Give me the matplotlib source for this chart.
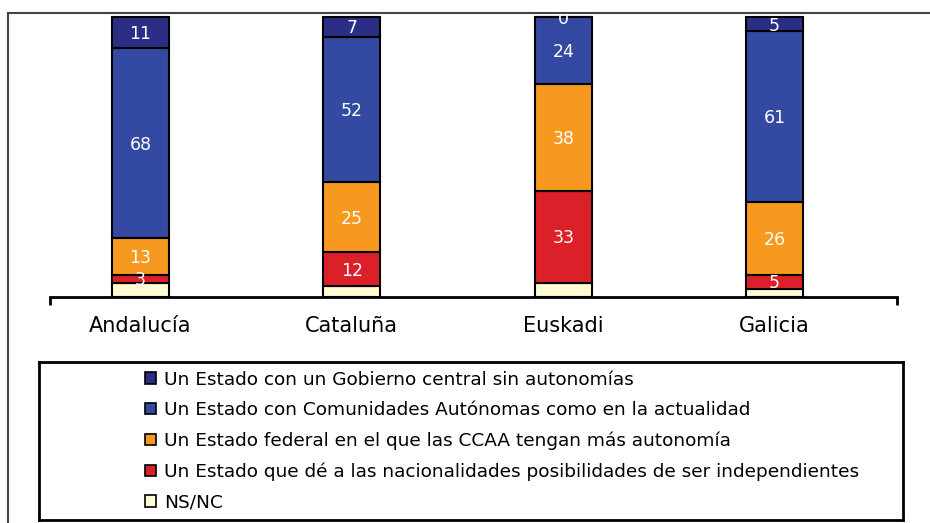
import matplotlib
matplotlib.use("Agg")
import matplotlib.pyplot as plt
from matplotlib.lines import Line2D
from matplotlib.patches import Patch

# Data (percentages, bottom to top of each bar)
categories = ['Andalucía', 'Cataluña', 'Euskadi', 'Galicia']
nsnc = [5, 4, 5, 3]
indep = [3, 12, 33, 5]
federal = [13, 25, 38, 26]
ccaa = [68, 52, 24, 61]
central = [11, 7, 0, 5]

series = [
    ('NS/NC', nsnc, '#FFFBD2', False),
    ('Un Estado que dé a las nacionalidades posibilidades de ser independientes', indep, '#DC2029', True),
    ('Un Estado federal en el que las CCAA tengan más autonomía', federal, '#F7991E', True),
    ('Un Estado con Comunidades Autónomas como en la actualidad', ccaa, '#3349A2', True),
    ('Un Estado con un Gobierno central sin autonomías', central, '#2B2E85', True),
]

plt.rcParams['font.family'] = ['DejaVu Sans']
W, H = 930, 523
fig = plt.figure(figsize=(W / 100, H / 100), dpi=100)

# chart axes: x from 50 to 897 px, y from 297 (bottom) up to 13
ax = fig.add_axes([50 / W, 1 - 297 / H, (897 - 50) / W, (297 - 13) / H])
x = list(range(len(categories)))
step = 211.5
ax.set_xlim((50 - 140.5) / step, 3 + (897 - 774.5) / step)
ax.set_ylim(0, 100 * 284 / 280)

bottom = [0] * len(categories)
handles = []
for name, vals, col, show in series:
    ax.bar(x, vals, width=0.27, bottom=bottom, color=col, edgecolor='black',
           linewidth=1.5, zorder=3)
    if show:
        for i, v in enumerate(vals):
            ax.text(x[i], bottom[i] + v / 2 - 0.6, str(v), ha='center', va='center',
                    color='white', fontsize=12.5, zorder=4, clip_on=False)
    bottom = [b + v for b, v in zip(bottom, vals)]
    handles.append(Patch(facecolor=col, edgecolor='black', linewidth=1.2, label=name))

for s in ['top', 'left', 'right']:
    ax.spines[s].set_visible(False)
ax.spines['bottom'].set_linewidth(2)
ax.set_yticks([])
ax.set_xticks(x)
ax.set_xticklabels(categories, fontsize=15)
ax.tick_params(axis='x', length=0, pad=14)
ax.set_xticks(list(ax.get_xlim()), minor=True)
ax.tick_params(axis='x', which='minor', length=6, width=2, direction='out')

# legend box
lax = fig.add_axes([39 / W, 1 - 520 / H, (903 - 39) / W, (520 - 362) / H])
lax.set_xticks([])
lax.set_yticks([])
for s in lax.spines.values():
    s.set_linewidth(2)
lax.legend(handles=handles[::-1], loc='center left', bbox_to_anchor=((138 - 39) / 864, 0.5),
           frameon=False, fontsize=13.3, handlelength=0.6, handleheight=0.6,
           handletextpad=0.4, labelspacing=0.67, borderaxespad=0)

# outer frame lines
fig.add_artist(Line2D([8 / W, 8 / W], [0, 1 - 13 / H], transform=fig.transFigure,
                      color='#444444', linewidth=1.5))
fig.add_artist(Line2D([8 / W, 1], [1 - 13 / H, 1 - 13 / H], transform=fig.transFigure,
                      color='#444444', linewidth=1.5))

fig.savefig('out.png', dpi=100)
